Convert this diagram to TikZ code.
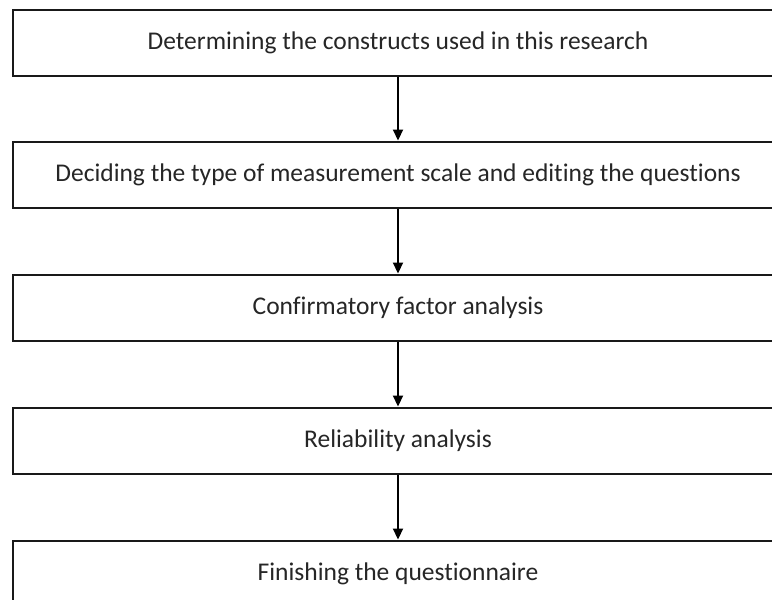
\documentclass[tikz,border=0pt]{standalone}
\usepackage{fontspec}
\setmainfont{Carlito}[Ligatures={NoCommon}]
\usetikzlibrary{arrows.meta}
\begin{document}
\begin{tikzpicture}[x=1pt,y=-1pt,
  stepbox/.style={draw=black!90,line width=2pt,minimum width=770pt,minimum height=66pt,
    inner sep=0pt,font=\fontsize{25.5}{28}\selectfont,text=black!85},
  flow/.style={line width=2.2pt,-{Triangle[length=11pt,width=10pt]},shorten >=0.5pt}]
\clip (0,0) rectangle (772,600);
\fill[white] (0,0) rectangle (772,600);
\node[stepbox] (s1) at (398,42.5) {Determining the constructs used in this research};
\node[stepbox] (s2) at (398,175) {Deciding the type of measurement scale and editing the questions};
\node[stepbox] (s3) at (398,308) {Confirmatory factor analysis};
\node[stepbox] (s4) at (398,441) {Reliability analysis};
\node[stepbox] (s5) at (398,574) {Finishing the questionnaire};
\draw[flow] (s1) -- (s2);
\draw[flow] (s2) -- (s3);
\draw[flow] (s3) -- (s4);
\draw[flow] (s4) -- (s5);
\end{tikzpicture}
\end{document}
